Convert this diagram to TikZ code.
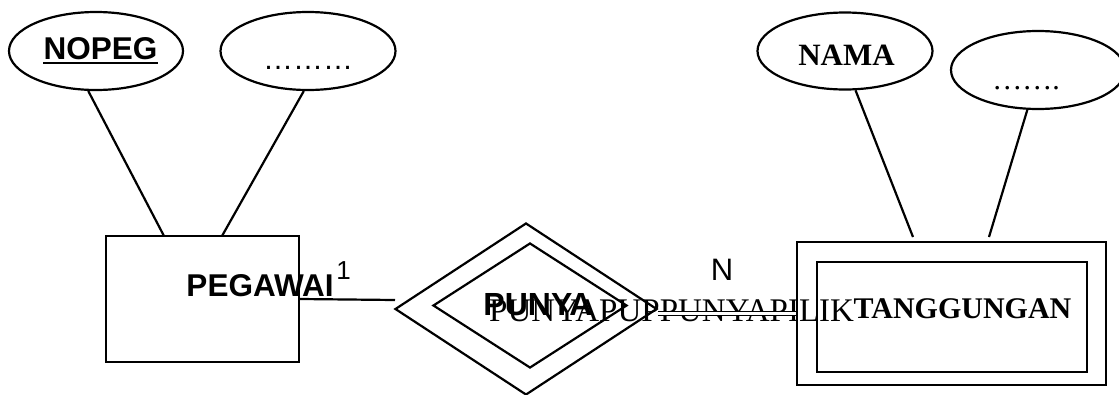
\documentclass[tikz,border=0pt]{standalone}
\usepackage{fontspec}
\setmainfont{Liberation Serif}
\setsansfont{Liberation Sans}
\usetikzlibrary{shapes.geometric}
\begin{document}
\begin{tikzpicture}[x=1pt,y=-1pt,
  ent/.style={draw, rectangle, line width=2.2pt, inner sep=0pt},
  attr/.style={draw, ellipse, line width=2.2pt, inner sep=0pt},
  rel/.style={draw, diamond, line width=2.2pt, inner sep=0pt},
  conn/.style={line width=2.2pt},
  lbl/.style={anchor=base, inner sep=0pt},
  sansb/.style={font=\sffamily\bfseries\fontsize{#1}{#1}\selectfont},
  sansr/.style={font=\sffamily\fontsize{#1}{#1}\selectfont},
  serifb/.style={font=\rmfamily\bfseries\fontsize{#1}{#1}\selectfont},
  serifr/.style={font=\rmfamily\fontsize{#1}{#1}\selectfont}]
\useasboundingbox (0,0) rectangle (1119,394);
\clip (0,0) rectangle (1119,394);

% attributes
\node[attr, minimum width=174pt, minimum height=78pt] (nopeg) at (96,51) {};
\node[lbl, sansb=31.5] (nopegt) at (100.5,59) {NOPEG};
\draw[line width=2.2pt] ([yshift=-4pt]nopegt.base west) -- ([yshift=-4pt]nopegt.base east);
\node[attr, minimum width=175pt, minimum height=78pt] (dotsa) at (308,51) {};
\node[lbl, sansr=30] (dotsat) at (308,69) {………};
\node[attr, minimum width=175pt, minimum height=77pt] (nama) at (845,51) {};
\node[lbl, serifb=31] (namat) at (846.5,65) {NAMA};
\node[attr, minimum width=174pt, minimum height=78pt] (dotsb) at (1038,70) {};
\node[lbl, serifr=30] (dotsbt) at (1026,89) {…….};

% entities
\node[ent, minimum width=193pt, minimum height=126pt] (pegawai) at (202.5,299) {};
\node[lbl, sansb=31.5] (pegawait) at (260,296) {PEGAWAI};
\node[lbl, sansr=26] (one) at (343.5,279) {1};
\node[ent, minimum width=309pt, minimum height=143pt] (tangout) at (951.5,313.5) {};
\node[ent, minimum width=270pt, minimum height=110pt] (tangin) at (952,317) {};
\node[lbl, serifb=30] (tangt) at (962.5,318) {TANGGUNGAN};

% relationship
\node[rel, minimum width=262pt, minimum height=172pt] (punya) at (526,309) {};
\node[rel, minimum width=194pt, minimum height=125pt] (punyain) at (530,305.5) {};
\node[lbl, sansb=32] (punyat) at (538,315) {PUNYA};
\node[lbl, serifr=33, anchor=base west] (overt) at (489,321) {PUNYAPUPPUNYAPILIK};
\node[lbl, sansr=31] (nlab) at (722,280) {N};

% connectors
\coordinate (p1) at (164,236);
\coordinate (p2) at (222,236);
\coordinate (t1) at (913,237);
\coordinate (t2) at (989,237);
\coordinate (c1) at (395,300);
\draw[conn] (nopeg.259) -- (p1);
\draw[conn] (dotsa.264) -- (p2);
\draw[conn] (nama.285) -- (t1);
\draw[conn] (dotsb.255) -- (t2);
\draw[conn] (pegawai.east) -- (c1);
\draw[line width=1.4pt, double, double distance=2.6pt] (punya.east |- tangout.west) -- (tangout.west);
\end{tikzpicture}
\end{document}
